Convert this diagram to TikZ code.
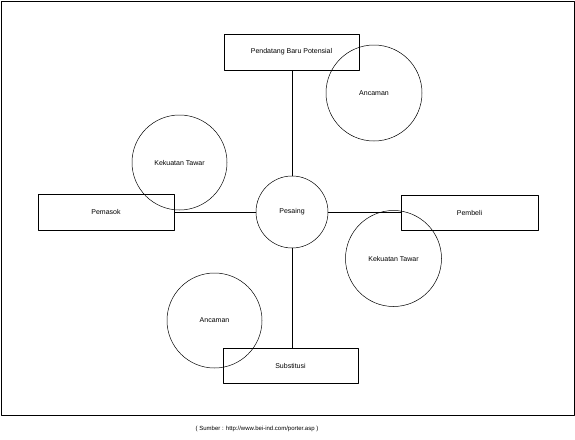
\documentclass[tikz,border=0pt]{standalone}
\usepackage{fontspec}
\setmainfont{Liberation Sans}
\begin{document}
\begin{tikzpicture}[x=1pt,y=-1pt,line cap=round,line join=round,
    kotak/.style={draw,line width=0.6pt,rectangle,inner sep=0pt,font=\fontsize{7}{8}\selectfont},
    bulat/.style={draw,line width=0.5pt,circle,inner sep=0pt,font=\fontsize{7}{8}\selectfont}]
  \useasboundingbox (0,0) rectangle (575,439);
  \draw[line width=0.9pt] (1,1) rectangle (574,415);
  \node[kotak,minimum width=135pt,minimum height=36pt] (baru) at (291.5,52) {Pendatang Baru Potensial};
  \node[kotak,minimum width=136pt,minimum height=36pt] (pemasok) at (106,212) {Pemasok};
  \node[kotak,minimum width=137pt,minimum height=35pt] (pembeli) at (469.5,212.5) {Pembeli};
  \node[kotak,minimum width=135pt,minimum height=35pt] (substitusi) at (290.5,365.5) {Substitusi};
  \node[bulat,minimum size=72pt] (pesaing) at (292,212) {Pesaing};
  \node[bulat,minimum size=96pt] (ancaman1) at (374,93) {Ancaman};
  \node[bulat,minimum size=95pt] (tawar1) at (179.5,162.5) {Kekuatan Tawar};
  \node[bulat,minimum size=96pt] (tawar2) at (393.5,258.5) {Kekuatan Tawar};
  \node[bulat,minimum size=95pt] (ancaman2) at (214.5,320.5) {Ancaman};
  \draw[line width=0.6pt] (baru.south -| pesaing.north) -- (pesaing.north);
  \draw[line width=0.6pt] (pesaing.south) -- (substitusi.north -| pesaing.south);
  \draw[line width=0.6pt] (pemasok.east) -- (pesaing.west);
  \draw[line width=0.6pt] (pesaing.east) -- (pembeli.west |- pesaing.east);
  \node[font=\fontsize{6}{7}\selectfont] (sumber) at (257,429) {( Sumber : http://www.bei-ind.com/porter.asp )};
\end{tikzpicture}
\end{document}
